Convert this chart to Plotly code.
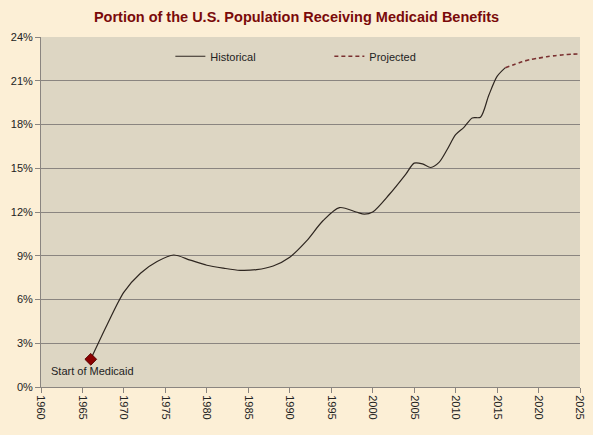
import plotly.graph_objects as go

hist_years = [1966, 1968, 1970, 1972, 1974, 1976, 1978, 1980, 1982, 1984, 1986, 1988,
              1990, 1992, 1994, 1996, 1998, 1999, 2000, 2002, 2004, 2005, 2006, 2007,
              2008, 2009, 2010, 2011, 2012, 2013, 2014, 2015, 2016]
hist_vals = [1.9, 4.3, 6.5, 7.8, 8.6, 9.05, 8.7, 8.35, 8.15, 8.0, 8.05, 8.3,
             8.9, 10.0, 11.4, 12.3, 12.0, 11.85, 12.0, 13.2, 14.6, 15.35, 15.3, 15.05,
             15.4, 16.3, 17.3, 17.8, 18.45, 18.5, 20.0, 21.3, 21.9]
proj_years = [2016, 2017, 2018, 2019, 2020, 2021, 2022, 2023, 2024, 2025]
proj_vals = [21.9, 22.1, 22.3, 22.45, 22.55, 22.65, 22.72, 22.78, 22.82, 22.84]
start_year = [1966]
start_val = [1.9]
x_ticks = list(range(1960, 2026, 5))
y_ticks = [0, 3, 6, 9, 12, 15, 18, 21, 24]

FONT = "Liberation Sans"

fig = go.Figure()
fig.add_trace(go.Scatter(x=hist_years, y=[v / 100 for v in hist_vals],
                         mode="lines", name="Historical",
                         line=dict(color="#2e2620", width=1.2, shape="spline", smoothing=0.8)))
fig.add_trace(go.Scatter(x=proj_years, y=[v / 100 for v in proj_vals],
                         mode="lines", name="Projected",
                         line=dict(color="#7a3030", width=1.6, dash="4px,3px", shape="spline", smoothing=0.8)))
fig.add_trace(go.Scatter(x=start_year, y=[v / 100 for v in start_val], mode="markers",
                         showlegend=False,
                         marker=dict(symbol="diamond", size=9, color="#8b0000",
                                     line=dict(color="#5a0000", width=1))))
fig.add_annotation(x=start_year[0], y=start_val[0] / 100, text="Start of Medicaid",
                   showarrow=False, xanchor="center", yanchor="top", yshift=-4, xshift=2,
                   font=dict(family=FONT, size=11, color="#222222"))

fig.update_layout(
    width=593, height=435,
    margin=dict(l=41, r=13, t=37, b=48),
    paper_bgcolor="#fcefd6",
    plot_bgcolor="#ddd6c3",
    font=dict(family=FONT, size=11, color="#222222"),
    title=dict(text="<b>Portion of the U.S. Population Receiving Medicaid Benefits</b>",
               x=0.5, xanchor="center", y=0.962, yanchor="middle",
               font=dict(family=FONT, size=14.5, color="#7a0a0a")),
    showlegend=True,
    legend=dict(orientation="h", x=0.24, xanchor="left", y=0.945, yanchor="middle",
                bgcolor="rgba(0,0,0,0)", entrywidth=114, entrywidthmode="pixels",
                font=dict(family=FONT, size=11, color="#222222")),
    xaxis=dict(range=[1960, 2025], tickvals=x_ticks, ticktext=[str(t) for t in x_ticks],
               tickangle=90, showgrid=False, zeroline=False, automargin=False,
               showline=True, linecolor="#8a8580", linewidth=1,
               ticks="outside", ticklen=5, tickcolor="#8a8580",
               tickfont=dict(family=FONT, size=11, color="#222222")),
    yaxis=dict(range=[0, 0.24], tickvals=[v / 100 for v in y_ticks],
               ticktext=[f"{v}%" for v in y_ticks], automargin=False,
               showgrid=True, gridcolor="#8a8580", gridwidth=1, zeroline=False,
               showline=True, linecolor="#8a8580", linewidth=1,
               ticks="outside", ticklen=5, tickcolor="#8a8580",
               tickfont=dict(family=FONT, size=11, color="#222222")),
)

fig.write_html("out.html", config={"displayModeBar": False},
               post_script="document.body.style.margin='0';document.body.style.background='#fcefd6';")
